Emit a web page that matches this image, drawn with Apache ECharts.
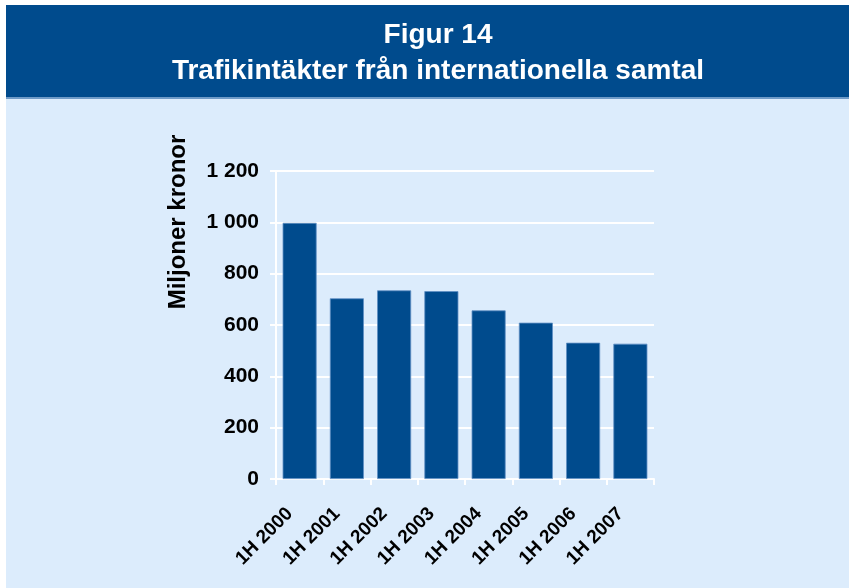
<!DOCTYPE html>
<html>
<head>
<meta charset="utf-8">
<script src="https://cdn.jsdelivr.net/npm/echarts@6/dist/echarts.min.js"></script>
<style>
  html, body { margin: 0; padding: 0; background: #ffffff; }
  #chart { width: 849px; height: 588px; }
</style>
</head>
<body>
<div id="chart"></div>
<script>
// data
const categories = ['1H 2000', '1H 2001', '1H 2002', '1H 2003', '1H 2004', '1H 2005', '1H 2006', '1H 2007'];
const revenue = [998, 704, 735, 732, 657, 609, 531, 527];
const yTicks = [0, 200, 400, 600, 800, 1000, 1200];

const titleLines = ['Figur 14', 'Trafikintäkter från internationella samtal'];
const yName = 'Miljoner kronor';

const font = 'Liberation Sans, Arial, sans-serif';

const chart = echarts.init(document.getElementById('chart'));

chart.setOption({
    animation: false,
    backgroundColor: '#ffffff',
    graphic: [
        { type: 'rect', z: -10, shape: { x: 6, y: 98, width: 843, height: 490 }, style: { fill: '#dcecfc' } },
        { type: 'rect', z: -9, shape: { x: 6, y: 5, width: 843, height: 93 }, style: { fill: '#004b8d' } },
        { type: 'rect', z: -9, shape: { x: 6, y: 97, width: 843, height: 2 }, style: { fill: '#6f9bc8' } },
        {
            type: 'text', x: 178, y: 222, rotation: Math.PI / 2,
            style: {
                text: yName, fill: '#000', font: 'bold 24px ' + font,
                textAlign: 'center', textVerticalAlign: 'middle'
            }
        }
    ],
    title: {
        text: titleLines.join('\n'),
        left: 433,
        textAlign: 'center',
        top: 12,
        textStyle: { color: '#fff', fontFamily: font, fontWeight: 'bold', fontSize: 28, lineHeight: 36 }
    },
    grid: { left: 276, right: 195, top: 171, bottom: 109, containLabel: false },
    xAxis: {
        type: 'category',
        data: categories,
        axisLine: { show: true, lineStyle: { color: '#fff', width: 2 } },
        axisTick: { show: true, length: 6, lineStyle: { color: '#fff', width: 2 } },
        axisLabel: {
            rotate: 45, margin: 22, color: '#000',
            fontFamily: font, fontWeight: 'bold', fontSize: 19,
            padding: [0, 14, 0, 0]
        }
    },
    yAxis: {
        type: 'value',
        min: yTicks[0],
        max: yTicks[yTicks.length - 1],
        interval: 200,
        axisLine: { show: true, lineStyle: { color: '#fff', width: 2 } },
        axisTick: { show: true, length: 6, lineStyle: { color: '#fff', width: 2 } },
        splitLine: { show: true, lineStyle: { color: '#fff', width: 2 } },
        axisLabel: {
            margin: 17, color: '#000',
            fontFamily: font, fontWeight: 'bold', fontSize: 21,
            formatter: v => String(v).replace(/\B(?=(\d{3})+(?!\d))/g, ' ')
        }
    },
    series: [{
        type: 'bar',
        data: revenue,
        barCategoryGap: '28%',
        itemStyle: { color: '#004b8d', borderColor: '#5f8fc4', borderWidth: 0.8 }
    }]
});
</script>
</body>
</html>
